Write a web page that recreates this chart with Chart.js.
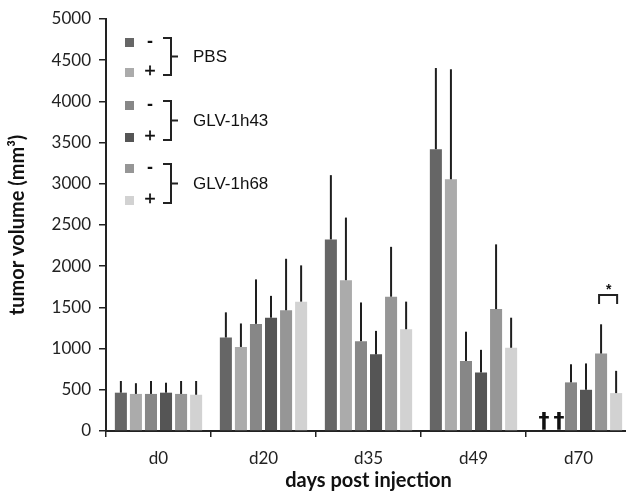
<!DOCTYPE html>
<html><head><meta charset="utf-8">
<script src="https://cdn.jsdelivr.net/npm/chart.js@4/dist/chart.umd.min.js"></script>
<style>html,body{margin:0;padding:0;background:#fff;overflow:hidden;width:626px;height:491px}canvas{display:block}</style>
</head><body>
<canvas id="c" width="640" height="491"></canvas>
<script>
const categories = ['d0','d20','d35','d49','d70'];
const pbsNeg = [465, 1135, 2325, 3420, 0];
const pbsNegErr = [142, 305, 780, 985, 0];
const pbsPos = [450, 1020, 1830, 3055, 0];
const pbsPosErr = [130, 285, 760, 1335, 0];
const g43Neg = [450, 1300, 1090, 850, 590];
const g43NegErr = [157, 540, 470, 355, 220];
const g43Pos = [465, 1375, 930, 710, 500];
const g43PosErr = [121, 265, 285, 275, 320];
const g68Neg = [450, 1465, 1630, 1480, 940];
const g68NegErr = [157, 625, 605, 785, 355];
const g68Pos = [440, 1570, 1235, 1010, 460];
const g68PosErr = [167, 440, 335, 365, 270];
const yTicks = [0,500,1000,1500,2000,2500,3000,3500,4000,4500,5000];
const groupLabels = ['PBS','GLV-1h43','GLV-1h68'];
const signs = ['-','+'];
const colors = ['#666666','#ababab','#878787','#555555','#969696','#d2d2d2'];

const series = [
  {d:pbsNeg,e:pbsNegErr},{d:pbsPos,e:pbsPosErr},
  {d:g43Neg,e:g43NegErr},{d:g43Pos,e:g43PosErr},
  {d:g68Neg,e:g68NegErr},{d:g68Pos,e:g68PosErr}
];

const errorPlugin = {
  id:'errbars',
  afterDatasetsDraw(chart){
    const ctx = chart.ctx, y = chart.scales.y;
    ctx.save();
    ctx.strokeStyle = '#1e1e1e'; ctx.lineWidth = 2;
    chart.data.datasets.forEach((ds,di)=>{
      const meta = chart.getDatasetMeta(di);
      meta.data.forEach((bar,i)=>{
        const v = ds.data[i], e = ds.errors[i];
        if(!e) return;
        ctx.beginPath();
        ctx.moveTo(bar.x, y.getPixelForValue(v));
        ctx.lineTo(bar.x, y.getPixelForValue(v+e));
        ctx.stroke();
      });
    });
    // daggers for d70 PBS groups
    ctx.fillStyle = '#111';
    ctx.font = 'bold 22px "DejaVu Sans"';
    ctx.textAlign = 'center'; ctx.textBaseline = 'alphabetic';
    [0,1].forEach(di=>{
      const bar = chart.getDatasetMeta(di).data[4];
      ctx.fillText('\u2020', bar.x+3, y.getPixelForValue(0)-3);
    });
    // significance bracket d70 GLV-1h68 - vs +
    const b1 = chart.getDatasetMeta(4).data[4], b2 = chart.getDatasetMeta(5).data[4];
    const top = y.getPixelForValue(1650);
    ctx.strokeStyle = '#222'; ctx.lineWidth = 2;
    ctx.beginPath();
    ctx.moveTo(b1.x-2, top+9); ctx.lineTo(b1.x-2, top); ctx.lineTo(b2.x+1, top); ctx.lineTo(b2.x+1, top+9);
    ctx.stroke();
    ctx.font = 'bold 14px "Liberation Sans"';
    ctx.fillText('*', (b1.x+b2.x)/2, top-1);
    ctx.restore();
  }
};

const legendPlugin = {
  id:'bracketLegend',
  afterDraw(chart){
    const ctx = chart.ctx;
    ctx.save();
    const rows = [42,72,105,137,168,200];
    rows.forEach((ry,i)=>{
      ctx.fillStyle = colors[i];
      ctx.fillRect(125, ry-4, 9, 9);
      ctx.fillStyle = '#111';
      ctx.font = 'bold 18px "Liberation Sans"';
      ctx.textAlign = 'center'; ctx.textBaseline = 'middle';
      if(i%2){ ctx.font = '19px "Liberation Sans"'; ctx.lineWidth = 0.6; ctx.strokeStyle = '#111'; ctx.strokeText(signs[1],150,ry); }
      ctx.fillText(signs[i%2], 150, ry);
    });
    ctx.strokeStyle = '#222'; ctx.lineWidth = 2;
    ctx.font = '17px "Liberation Sans"';
    ctx.textAlign = 'left';
    for(let g=0; g<3; g++){
      const t = rows[g*2]-4, b = rows[g*2+1]+3, m = (t+b)/2;
      ctx.beginPath();
      ctx.moveTo(163,t); ctx.lineTo(171,t); ctx.lineTo(171,b); ctx.lineTo(163,b);
      ctx.moveTo(171,m); ctx.lineTo(178,m);
      ctx.stroke();
      ctx.fillStyle = '#111';
      ctx.fillText(groupLabels[g], 193, m+1);
    }
    ctx.restore();
  }
};

new Chart(document.getElementById('c'), {
  type:'bar',
  data:{
    labels: categories,
    datasets: series.map((s,i)=>({data:s.d, errors:s.e, backgroundColor:colors[i], borderWidth:0,
      barPercentage:0.8, categoryPercentage:0.86}))
  },
  options:{
    responsive:false, animation:false,
    layout:{padding:{top:19,right:9,left:0,bottom:0}},
    plugins:{legend:{display:false},tooltip:{enabled:false}},
    scales:{
      x:{
        grid:{display:true, drawOnChartArea:false, offset:true, color:'#222', lineWidth:1.5, tickLength:6},
        border:{display:true, color:'#222', width:2},
        ticks:{color:'#222', font:{family:'Lato', size:17}, padding:11},
        title:{display:true, text:'days post injection', color:'#111', font:{family:'Lato', size:20, weight:'bold', lineHeight:1.0}, padding:{top:0,bottom:0}},
        afterFit(s){ s.height = 60; }
      },
      y:{
        min:0, max:5000,
        afterBuildTicks(s){ s.ticks = yTicks.map(v=>({value:v})); },
        grid:{display:true, drawOnChartArea:false, color:'#222', lineWidth:1.5, tickLength:7},
        border:{display:true, color:'#222', width:2},
        ticks:{color:'#222', font:{family:'Lato', size:17}, padding:8, callback:(v)=>String(v)},
        title:{display:true, text:'tumor volume (mm\u00B3)', color:'#111', font:{family:'Lato', size:20, weight:'bold'}, padding:{top:6,bottom:8}},
        afterFit(s){ s.width = 106; }
      }
    }
  },
  plugins:[errorPlugin, legendPlugin]
});
</script>
</body></html>
